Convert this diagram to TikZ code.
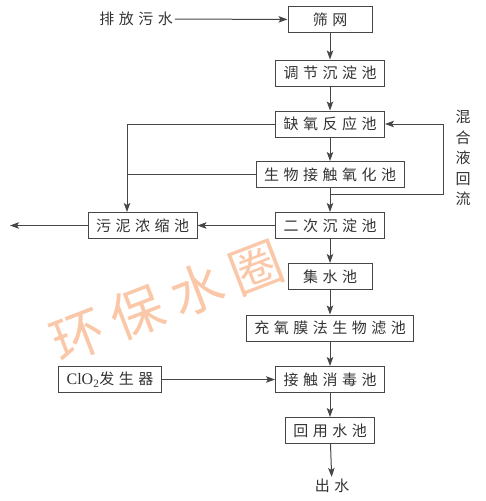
\documentclass[tikz,border=0pt]{standalone}
\usepackage{fontspec}
\setmainfont{Liberation Serif}
\newfontfamily\cjk[LetterSpace=30]{Noto Sans CJK SC}
\newfontfamily\cjkmark[LetterSpace=20]{Noto Sans CJK SC}
\usepackage{tikz}
\usepackage{xcolor}
\usetikzlibrary{arrows.meta}

\definecolor{linegray}{RGB}{70,70,70}
\definecolor{markorange}{RGB}{250,200,168}

\begin{document}
\begin{tikzpicture}[x=1pt, y=-1pt,
  box/.style={draw=linegray, line width=1pt, text=black!80, font=\cjk\fontsize{15}{18}\selectfont,
    minimum width=84pt, minimum height=26pt, inner xsep=8pt, inner ysep=0pt},
  lbl/.style={text=black!80, font=\cjk\fontsize{15}{20.5}\selectfont, inner sep=2pt},
  flow/.style={-{Stealth[length=9pt, width=6.5pt, inset=2pt]}, draw=linegray, line width=1pt},
  line/.style={draw=linegray, line width=1pt}]
\useasboundingbox (0,0) rectangle (485,501);
% водяной знак
\node[text=markorange, font=\cjkmark\fontsize{53}{53}\selectfont, rotate=21] (znak) at (167,301) {环保水圈};
% блоки
\node[box] (shaiwang) at (330,19.5) {筛网};
\node[box] (tiaojie) at (330,73) {调节沉淀池};
\node[box] (queyang) at (330,124) {缺氧反应池};
\node[box] (shengwu) at (330,174.5) {生物接触氧化池};
\node[box] (erci) at (330,225.5) {二次沉淀池};
\node[box] (wuni) at (142.5,225.5) {污泥浓缩池};
\node[box] (jishui) at (330,276.5) {集水池};
\node[box] (chongyang) at (330,328) {充氧膜法生物滤池};
\node[box] (jiechu) at (330,379.5) {接触消毒池};
\node[box] (clo) at (110,379.5) {{\rmfamily\fontsize{16}{18}\selectfont ClO\textsubscript{2}}发生器};
\node[box] (huiyong) at (330,430.5) {回用水池};
% подписи
\node[lbl] (paifang) at (136,19) {排放污水};
\node[lbl] (chushui) at (332,486) {出水};
\node[lbl, align=center, inner sep=0pt] (hunhe) at (463,158) {混\\合\\液\\回\\流};
% точки
\coordinate (zuo) at (127,124);
\coordinate (huiliu) at (443,194);
\coordinate (wai) at (10,225.5);
% стрелки
\draw[flow] (paifang) -- (shaiwang);
\draw[flow] (shaiwang) -- (tiaojie);
\draw[flow] (tiaojie) -- (queyang);
\draw[flow] (queyang) -- (shengwu);
\draw[flow] (shengwu) -- (erci);
\draw[flow] (erci) -- (jishui);
\draw[flow] (jishui) -- (chongyang);
\draw[flow] (chongyang) -- (jiechu);
\draw[flow] (jiechu) -- (huiyong);
\draw[flow] (huiyong) -- (chushui);
\draw[flow] (clo) -- (jiechu);
\draw[flow] (erci) -- (wuni);
\draw[flow] (wuni) -- (wai);
% шлам
\draw[flow] (queyang) -- (zuo) -- (zuo |- wuni.north);
\draw[line] (shengwu) -- (shengwu.west -| zuo);
% возврат
\draw[flow] (shengwu.south |- huiliu) -- (huiliu) |- (queyang);
\end{tikzpicture}
\end{document}
